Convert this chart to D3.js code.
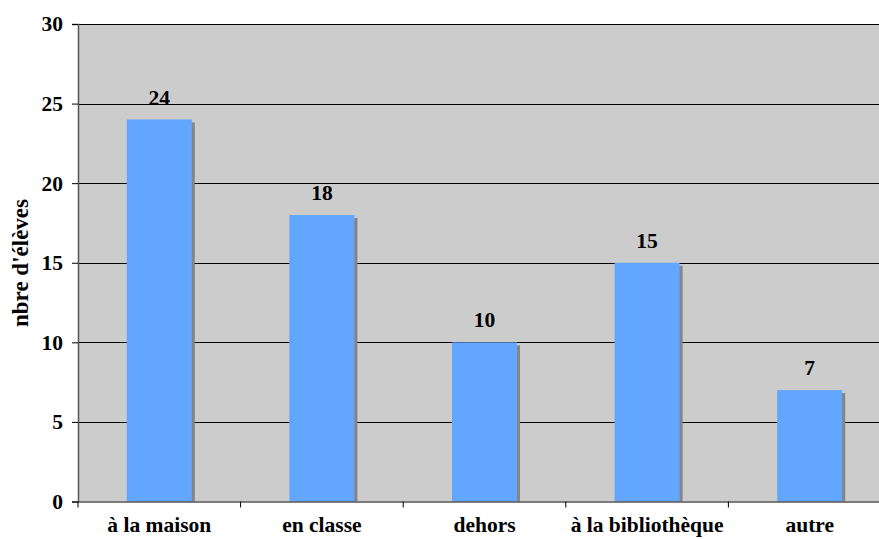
<!DOCTYPE html>
<html>
<head>
<meta charset="utf-8">
<script src="https://cdn.jsdelivr.net/npm/d3@7"></script>
<style>
  html, body { margin: 0; padding: 0; background: #ffffff; }
  svg { display: block; }
</style>
</head>
<body>
<svg id="chart" width="879" height="539"></svg>
<script>
// Where pupils work: number of pupils per place
const categories = ["à la maison", "en classe", "dehors", "à la bibliothèque", "autre"];
const values = [24, 18, 10, 15, 7];
const yTicks = [0, 5, 10, 15, 20, 25, 30];
const yTitle = "nbre d'élèves";

const W = 879;
const plot = { left: 78, top: 24, bottom: 501.5, step: 162.6 };
const FONT = '"Liberation Serif", "Times New Roman", serif';

const svg = d3.select("#chart");

const x = d3.scaleBand()
  .domain(categories)
  .range([plot.left, plot.left + plot.step * categories.length])
  .padding(0);

const y = d3.scaleLinear().domain([0, 30]).range([plot.bottom, plot.top]);

const barW = x.bandwidth() * 0.4;

function styleText(sel, size) {
  sel.style("font-family", FONT)
    .style("font-weight", "bold")
    .style("font-size", size + "px")
    .attr("fill", "#000");
}

// plot background
svg.append("rect")
  .attr("x", plot.left).attr("y", plot.top)
  .attr("width", W - plot.left).attr("height", plot.bottom - plot.top)
  .attr("fill", "#cccccc");

// horizontal gridlines
svg.append("g")
  .selectAll("line")
  .data(yTicks.filter(d => d > 0))
  .join("line")
  .attr("x1", plot.left).attr("x2", W)
  .attr("y1", d => Math.round(y(d)) + 0.5).attr("y2", d => Math.round(y(d)) + 0.5)
  .attr("stroke", "#000").attr("stroke-width", 1);

// bar shadows
svg.append("g")
  .selectAll("rect")
  .data(values)
  .join("rect")
  .attr("x", (d, i) => x(categories[i]) + (x.bandwidth() - barW) / 2 + 3)
  .attr("y", d => y(d) + 3)
  .attr("width", barW)
  .attr("height", d => plot.bottom - y(d) - 3)
  .attr("fill", "#858585");

// bars
svg.append("g")
  .selectAll("rect")
  .data(values)
  .join("rect")
  .attr("x", (d, i) => x(categories[i]) + (x.bandwidth() - barW) / 2)
  .attr("y", d => y(d))
  .attr("width", barW)
  .attr("height", d => plot.bottom - y(d))
  .attr("fill", "#63a6ff");

// value labels
svg.append("g")
  .selectAll("text")
  .data(values)
  .join("text")
  .attr("x", (d, i) => x(categories[i]) + x.bandwidth() / 2)
  .attr("y", d => y(d) - 15)
  .attr("text-anchor", "middle")
  .text(d => d)
  .call(styleText, 21.5);

// y axis
const yAxis = svg.append("g")
  .attr("transform", `translate(${plot.left},0)`)
  .call(d3.axisLeft(y).tickValues(yTicks).tickSize(6).tickPadding(9));
yAxis.select(".domain").attr("stroke", "#555").attr("stroke-width", 1.5);
yAxis.selectAll(".tick line").attr("stroke", "#000");
yAxis.selectAll(".tick text").call(styleText, 21.5);

// x axis
const xAxis = svg.append("g")
  .attr("transform", `translate(0,${plot.bottom})`)
  .call(d3.axisBottom(x).tickSize(0).tickPadding(15));
xAxis.select(".domain").attr("stroke", "#555").attr("stroke-width", 1.5);
xAxis.selectAll(".tick text").call(styleText, 21.5);

// category separator ticks
svg.append("g")
  .selectAll("line")
  .data(d3.range(categories.length + 1))
  .join("line")
  .attr("x1", i => plot.left + i * x.step())
  .attr("x2", i => plot.left + i * x.step())
  .attr("y1", plot.bottom).attr("y2", plot.bottom + 6)
  .attr("stroke", "#000");

// y axis title
svg.append("text")
  .attr("transform", "translate(28,263) rotate(-90)")
  .attr("text-anchor", "middle")
  .text(yTitle)
  .call(styleText, 23);
</script>
</body>
</html>
